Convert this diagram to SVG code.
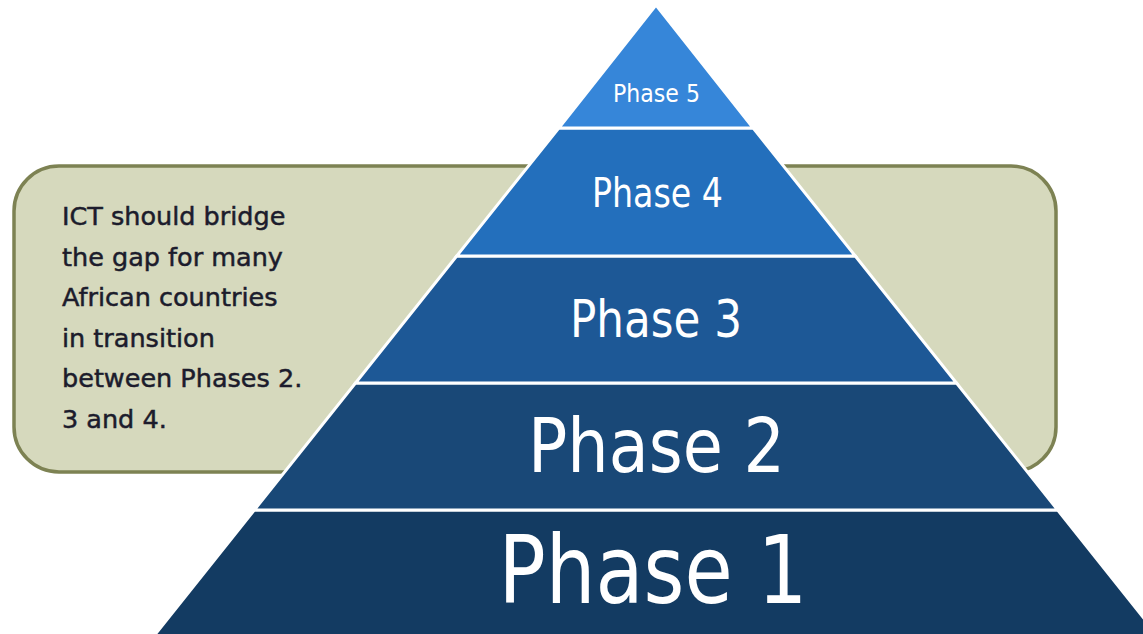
<svg xmlns="http://www.w3.org/2000/svg" width="1143" height="634" viewBox="0 0 1143 634">
  <style>
    .band { stroke: #ffffff; stroke-width: 3; stroke-linejoin: miter; }
    .plabel { font-family: "DejaVu Sans", "Liberation Sans", sans-serif; fill: #ffffff; text-anchor: middle; }
    .note { font-family: "DejaVu Sans", "Liberation Sans", sans-serif; font-size: 25.5px; fill: #1c1c2c; stroke: #1c1c2c; stroke-width: 0.5; }
  </style>
  <rect width="1143" height="634" fill="#ffffff"/>
  <g id="note-box">
    <rect x="14" y="166" width="1042" height="306" rx="45" ry="45" fill="#d6d9bd" stroke="#7d8253" stroke-width="3.5"/>
    <text class="note" x="62" y="225">ICT should bridge</text>
    <text class="note" x="62" y="265.6">the gap for many</text>
    <text class="note" x="62" y="306.2">African countries</text>
    <text class="note" x="62" y="346.8">in transition</text>
    <text class="note" x="62" y="387.4">between Phases 2.</text>
    <text class="note" x="62" y="428">3 and 4.</text>
  </g>
  <g id="connectors"></g>
  <g id="phase1">
    <polygon class="band" fill="#133b62" points="254.3,510 1057.7,510 1161.3,640 150.7,640"/>
    <text class="plabel" x="653" y="603" font-size="94" textLength="309" lengthAdjust="spacingAndGlyphs">Phase 1</text>
  </g>
  <g id="phase2">
    <polygon class="band" fill="#194877" points="355.5,383 956.5,383 1057.7,510 254.3,510"/>
    <text class="plabel" x="656.5" y="472" font-size="74" textLength="257" lengthAdjust="spacingAndGlyphs">Phase 2</text>
  </g>
  <g id="phase3">
    <polygon class="band" fill="#1d5896" points="456.7,256 855.3,256 956.5,383 355.5,383"/>
    <text class="plabel" x="656" y="337" font-size="51" textLength="172" lengthAdjust="spacingAndGlyphs">Phase 3</text>
  </g>
  <g id="phase4">
    <polygon class="band" fill="#236fbc" points="558.8,128 753.2,128 855.3,256 456.7,256"/>
    <text class="plabel" x="657.5" y="207" font-size="40" textLength="131" lengthAdjust="spacingAndGlyphs">Phase 4</text>
  </g>
  <g id="phase5">
    <polygon class="band" fill="#3686d9" points="656,5 753.2,128 558.8,128"/>
    <text class="plabel" x="656.5" y="102" font-size="25" textLength="87" lengthAdjust="spacingAndGlyphs">Phase 5</text>
  </g>
</svg>
